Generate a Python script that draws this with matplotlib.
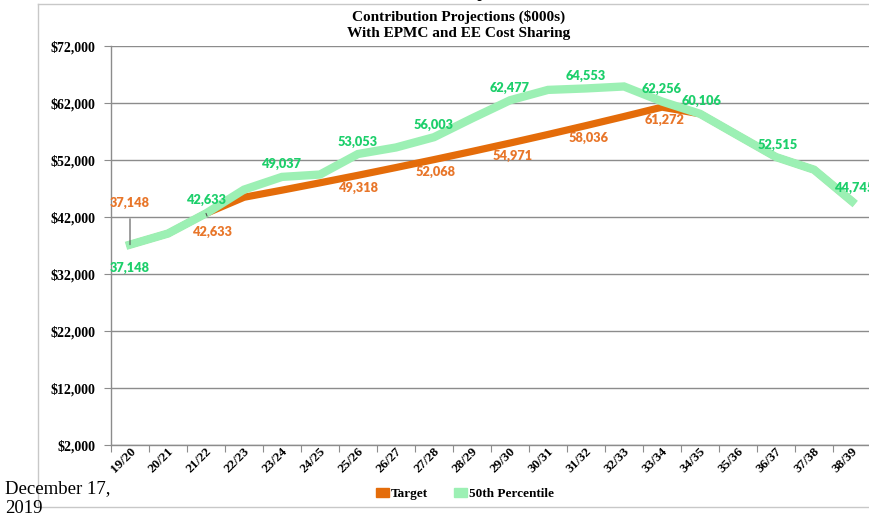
import numpy as np
import matplotlib.pyplot as plt
import matplotlib.transforms as mtrans
from matplotlib.lines import Line2D
from matplotlib.patches import Patch

# --- data ---
years = ["19/20", "20/21", "21/22", "22/23", "23/24", "24/25", "25/26", "26/27",
         "27/28", "28/29", "29/30", "30/31", "31/32", "32/33", "33/34", "34/35",
         "35/36", "36/37", "37/38", "38/39"]
target = [37148, 39100, 42633, 45460, 46710, 48000, 49318, 50680, 52068, 53500,
          54971, 56480, 58036, 59630, 61272, 60106, 56300, 52515, 50300, 44745]
pct50 = [37148, 39100, 42633, 46800, 49037, 49450, 53053, 54200, 56003, 59300,
         62477, 64300, 64553, 64900, 62256, 60106, 56300, 52515, 50300, 44745]

# which points get a label: (index, dx, dy) in points
green_labels = [(0, 0, -17), (2, 1, 10), (4, 0, 9), (6, 0, 9), (8, 0, 9), (10, 0, 9),
                (12, 0, 9), (14, 0, 9), (15, 1, 9), (17, 1, 9), (19, 2, 10)]
orange_labels = [(0, 0, 30), (2, 5, -13), (6, 1, -9), (8, 1, -9), (10, 2, -9),
                 (12, 2, -9), (14, 2, -9)]

ORANGE = "#E46C0A"
GREEN = "#9CF0B4"
ORANGE_TXT = "#E8762A"
GREEN_TXT = "#1DCF6B"
GRID = "#8C8C8C"

serif = ["Liberation Serif", "DejaVu Serif"]
lab_font = ["Lato", "DejaVu Sans"]

fig = plt.figure(figsize=(8.7, 5.19), dpi=100)
ax = fig.add_axes([111 / 870, 1 - 445 / 519, 760 / 870, (445 - 46) / 519])

x = np.arange(len(years))
ax.plot(x, target, color=ORANGE, lw=5.2, solid_joinstyle="miter", zorder=3)
ax.plot(x, pct50, color=GREEN, lw=6, solid_joinstyle="miter", zorder=4)

for i, dx, dy in green_labels:
    ax.annotate(f"{pct50[i]:,}", (x[i], pct50[i]), xytext=(dx, dy),
                textcoords="offset points", ha="center", va="center",
                color=GREEN_TXT, fontsize=9.2, fontweight="heavy",
                family=lab_font, zorder=6, annotation_clip=False)

for i, dx, dy in orange_labels:
    props = None
    if i in (0, 2):
        props = dict(arrowstyle="-", color="#555555", lw=0.8, shrinkA=5, shrinkB=0)
    ax.annotate(f"{target[i]:,}", (x[i], target[i]), xytext=(dx, dy),
                textcoords="offset points", ha="center", va="center",
                color=ORANGE_TXT, fontsize=9.2, fontweight="heavy",
                family=lab_font, zorder=6, arrowprops=props)

ax.set_xlim(-0.5, 19.5)
ax.set_ylim(2000, 72000)
ax.set_yticks(np.arange(2000, 72001, 10000))
ax.set_yticklabels([f"${v:,}" for v in range(2000, 72001, 10000)],
                   family=serif, fontweight="bold", fontsize=10)
ax.yaxis.grid(True, color=GRID, lw=1)
ax.set_axisbelow(True)

ax.set_xticks(np.arange(-0.5, 19.0, 1.0))
ax.set_xticklabels([])
ax.set_xticks(x, minor=True)
ax.set_xticklabels(years, minor=True, rotation=45, ha="right", va="top",
                   family=serif, fontweight="bold", fontsize=9.5)
ax.tick_params(axis="x", which="minor", length=0, pad=0)
ax.tick_params(axis="x", which="major", length=5, color=GRID)
ax.tick_params(axis="y", length=5, color=GRID, pad=6)
off = mtrans.ScaledTranslation(8 / 100, 0, fig.dpi_scale_trans)
for lbl in ax.get_xticklabels(minor=True):
    lbl.set_transform(lbl.get_transform() + off)

for s in ("top", "right"):
    ax.spines[s].set_visible(False)
for s in ("left", "bottom"):
    ax.spines[s].set_color(GRID)
    ax.spines[s].set_linewidth(1)

# title
fig.text(459 / 870, 1 - 17 / 519, "Contribution Projections ($000s)", ha="center",
         va="center", family=serif, fontweight="bold", fontsize=11)
fig.text(459 / 870, 1 - 33 / 519, "With EPMC and EE Cost Sharing", ha="center",
         va="center", family=serif, fontweight="bold", fontsize=11)
# cut-off slide heading above the chart
fig.text(483 / 870, 1 + 4 / 519, "y", ha="center", va="baseline", family=serif,
         fontweight="bold", fontsize=18)

# legend
handles = [Patch(color=ORANGE, label="Target"), Patch(color=GREEN, label="50th Percentile")]
fig.legend(handles=handles, loc="center", bbox_to_anchor=(465 / 870, 1 - 494 / 519),
           ncol=2, frameon=False, prop=dict(family=serif, weight="bold", size=9.5),
           handlelength=1.0, handleheight=0.6, handletextpad=0.1, columnspacing=2.0)

# slide frame and footer
fig.add_artist(Line2D([38 / 870, 1], [1 - 4 / 519, 1 - 4 / 519], color="#C8C8C8", lw=1))
fig.add_artist(Line2D([38 / 870, 38 / 870], [1 - 4 / 519, 1 - 507 / 519], color="#C8C8C8", lw=1))
fig.add_artist(Line2D([38 / 870, 1], [1 - 507 / 519, 1 - 507 / 519], color="#C8C8C8", lw=1))
fig.text(5 / 870, 1 - 493 / 519, "December 17,", family=serif, fontsize=13.5, va="baseline")
fig.text(5 / 870, 1 - 513 / 519, "2019", family=serif, fontsize=13.5, va="baseline")

fig.savefig("out.png", dpi=100)
